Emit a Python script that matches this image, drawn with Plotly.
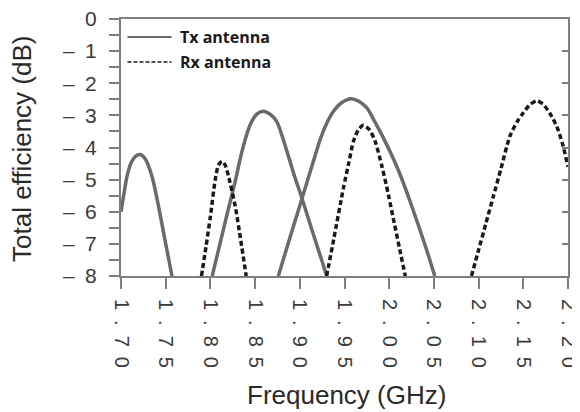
import plotly.graph_objects as go

# ---------------- data ----------------
tx1_freq = [1.700, 1.7035, 1.7067, 1.711, 1.7165, 1.7216, 1.727, 1.7347, 1.742, 1.749, 1.757]
tx1_eff = [-6.0, -5.4, -4.9, -4.5, -4.27, -4.22, -4.35, -4.9, -5.83, -6.85, -8.0]

tx2_freq = [1.802, 1.810, 1.818, 1.8278, 1.8353, 1.8445, 1.852, 1.8594, 1.867, 1.8744, 1.8856, 1.8948, 1.9023, 1.910, 1.918, 1.925, 1.930]
tx2_eff = [-8.0, -7.08, -6.15, -5.05, -4.12, -3.29, -2.96, -2.87, -2.97, -3.2, -4.12, -4.95, -5.57, -6.25, -6.95, -7.55, -8.0]

tx3_freq = [1.876, 1.889, 1.9023, 1.913, 1.9228, 1.930, 1.9377, 1.947, 1.9571, 1.966, 1.975, 1.984, 1.9935, 2.003, 2.0122, 2.0234, 2.033, 2.042, 2.051]
tx3_eff = [-8.0, -6.8, -5.6, -4.63, -3.75, -3.25, -2.87, -2.6, -2.48, -2.56, -2.77, -3.2, -3.7, -4.25, -4.84, -5.68, -6.45, -7.2, -8.0]

rx1_freq = [1.790, 1.795, 1.800, 1.8054, 1.809, 1.8129, 1.8165, 1.8203, 1.8278, 1.834, 1.840]
rx1_eff = [-8.0, -7.1, -6.15, -5.0, -4.55, -4.43, -4.55, -4.9, -5.83, -6.9, -8.0]

rx2_freq = [1.930, 1.938, 1.9488, 1.955, 1.960, 1.9655, 1.9712, 1.978, 1.9843, 1.992, 1.9991, 2.006, 2.012, 2.018]
rx2_eff = [-8.0, -6.85, -5.26, -4.45, -3.81, -3.45, -3.31, -3.45, -3.81, -4.6, -5.47, -6.4, -7.2, -8.0]

rx3_freq = [2.092, 2.100, 2.108, 2.1165, 2.125, 2.135, 2.143, 2.150, 2.158, 2.165, 2.172, 2.180, 2.1874, 2.194, 2.200]
rx3_eff = [-8.0, -7.19, -6.38, -5.52, -4.66, -3.65, -3.2, -2.92, -2.65, -2.55, -2.65, -2.95, -3.34, -3.9, -4.6]

x_tickvals = [1.70, 1.75, 1.80, 1.85, 1.90, 1.95, 2.00, 2.05, 2.10, 2.15, 2.20]
y_tickvals = [0, -1, -2, -3, -4, -5, -6, -7, -8]

series_names = ["Tx antenna", "Rx antenna"]


def spaced(v):
    s = f"{v:.2f}"
    return "\u2002".join(list(s))


x_ticktext = [spaced(v) for v in x_tickvals]
y_ticktext = ["0" if v == 0 else "\u2013\u2002" + str(abs(v)) for v in y_tickvals]

tx_freq = tx1_freq + [None] + tx2_freq + [None] + tx3_freq
tx_eff = tx1_eff + [None] + tx2_eff + [None] + tx3_eff
rx_freq = rx1_freq + [None] + rx2_freq + [None] + rx3_freq
rx_eff = rx1_eff + [None] + rx2_eff + [None] + rx3_eff

TX_COLOR = "#6a6a6a"
RX_COLOR = "#1a1a1a"
AXIS_COLOR = "#7f7f7f"
TICK_FONT = dict(family="Liberation Sans, Arial, sans-serif", size=21, color="#3a3a3a")

fig = go.Figure()
fig.add_trace(go.Scatter(
    x=tx_freq, y=tx_eff, mode="lines", name=series_names[0],
    line=dict(color=TX_COLOR, width=3.5, shape="spline", smoothing=0.7),
    connectgaps=False, showlegend=False,
))
fig.add_trace(go.Scatter(
    x=rx_freq, y=rx_eff, mode="lines", name=series_names[1],
    line=dict(color=RX_COLOR, width=3.5, dash="5px,3px", shape="spline", smoothing=0.7),
    connectgaps=False, showlegend=False,
))
# invisible trace to carry the inner right-hand tick axis
fig.add_trace(go.Scatter(x=[], y=[], yaxis="y2", showlegend=False, hoverinfo="skip"))

# page body has an 8px margin, so the figure is 8px smaller and offset accordingly
fig.update_layout(
    width=572, height=404,
    margin=dict(l=113, r=12, t=11, b=136),
    paper_bgcolor="white", plot_bgcolor="white",
    xaxis=dict(
        range=[1.70, 2.20], tickvals=x_tickvals, ticktext=x_ticktext, tickangle=90,
        ticks="outside", ticklen=11, tickwidth=1.5, tickcolor=AXIS_COLOR,
        showline=True, linecolor=AXIS_COLOR, linewidth=2, mirror=True,
        showgrid=False, zeroline=False, tickfont=dict(TICK_FONT, size=20),
        ticklabelstandoff=6, automargin=False, ticklabeloverflow="allow",
    ),
    yaxis=dict(
        range=[-8, 0], tickvals=y_tickvals, ticktext=y_ticktext,
        ticks="outside", ticklen=10, tickwidth=1.5, tickcolor=AXIS_COLOR,
        minor=dict(dtick=0.5, ticks="outside", ticklen=10, tickwidth=1.5, tickcolor=AXIS_COLOR, showgrid=False),
        showline=True, linecolor=AXIS_COLOR, linewidth=2, mirror=True,
        showgrid=False, zeroline=False, tickfont=TICK_FONT,
        ticklabelstandoff=8, automargin=False, ticklabeloverflow="allow",
    ),
    yaxis2=dict(
        overlaying="y", side="right", range=[-8, 0], tickvals=y_tickvals,
        ticks="inside", ticklen=6, tickwidth=1.5, tickcolor=AXIS_COLOR,
        showticklabels=False, showgrid=False, zeroline=False, showline=False,
        automargin=False,
    ),
    showlegend=False,
)

# axis titles
TITLE_FONT = dict(family="Liberation Sans, Arial, sans-serif", size=26, color="#2a2a2a")
fig.add_annotation(text="Frequency (GHz)", xref="paper", yref="paper", x=0.505, y=-0.462,
                   xanchor="center", yanchor="middle", showarrow=False, font=TITLE_FONT)
fig.add_annotation(text="Total efficiency (dB)", xref="paper", yref="paper", x=-0.22, y=0.493,
                   xanchor="center", yanchor="middle", textangle=-90, showarrow=False, font=TITLE_FONT)

# legend (drawn manually to match the long sample lines)
LEG_FONT = dict(family="Open Sans, sans-serif", size=16, color="#1a1a1a")
fig.add_shape(type="line", xref="paper", yref="paper", x0=0.0145, x1=0.113, y0=0.93, y1=0.93,
              line=dict(color=TX_COLOR, width=2))
fig.add_shape(type="line", xref="paper", yref="paper", x0=0.0145, x1=0.113, y0=0.833, y1=0.833,
              line=dict(color=RX_COLOR, width=1.5, dash="4px,2px"))
fig.add_annotation(text="<b>" + series_names[0] + "</b>", xref="paper", yref="paper", x=0.128, y=0.93,
                   xanchor="left", yanchor="middle", showarrow=False, font=LEG_FONT)
fig.add_annotation(text="<b>" + series_names[1] + "</b>", xref="paper", yref="paper", x=0.128, y=0.833,
                   xanchor="left", yanchor="middle", showarrow=False, font=LEG_FONT)

fig.write_html("out.html")
